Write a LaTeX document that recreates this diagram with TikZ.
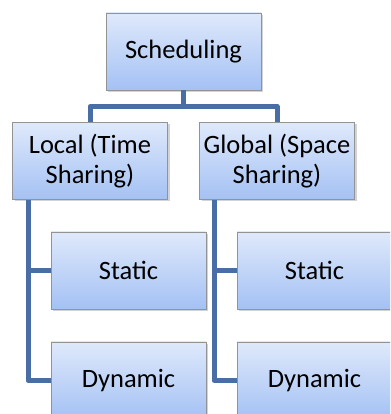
\documentclass[tikz,border=0pt]{standalone}
\usepackage{fontspec}
\setmainfont{Carlito}
\usetikzlibrary{shadows}
\definecolor{boxtop}{RGB}{223,233,251}
\definecolor{boxbot}{RGB}{164,193,244}
\definecolor{linkcol}{RGB}{72,110,165}
\tikzset{
  box/.style={draw=gray!85,line width=0.8pt,top color=boxtop,bottom color=boxbot,
    minimum width=155pt,minimum height=77pt,align=center,font=\fontsize{26.5}{30}\selectfont,
    drop shadow={shadow xshift=2pt,shadow yshift=-2pt,opacity=0.35}},
  link/.style={linkcol,line width=5pt,line join=round}
}

\begin{document}
\begin{tikzpicture}[x=1pt,y=1pt]
            \clip (0,0) rectangle (390,414);
            % top level and the two kinds
            \node[box] (sched) at (183.5,362.5) {Scheduling};
            \node[box] (local) at (90,253) {Local (Time\\Sharing)};
            \node[box] (global) at (277,253) {Global (Space\\Sharing)};
            \node[box] (lstat) at (128.5,143.5) {Static};
            \node[box] (ldyn) at (128.5,33.5) {Dynamic};
            \node[box] (gstat) at (314.5,143.5) {Static};
            \node[box] (gdyn) at (314.5,33.5) {Dynamic};
            \coordinate (lspine) at ([xshift=16pt]local.south west);
            \coordinate (gspine) at ([xshift=15pt]global.south west);
            \draw[link] (sched.south)--++(0,-16)-|(local.north);
            \draw[link] (sched.south)--++(0,-16)-|(global.north);
            \draw[link] (lspine)|-(lstat.west);
            \draw[link] (lspine)|-(ldyn.west);
            \draw[link] (gspine)|-(gstat.west);
            \draw[link] (gspine)|-(gdyn.west);
        \end{tikzpicture}
\end{document}
